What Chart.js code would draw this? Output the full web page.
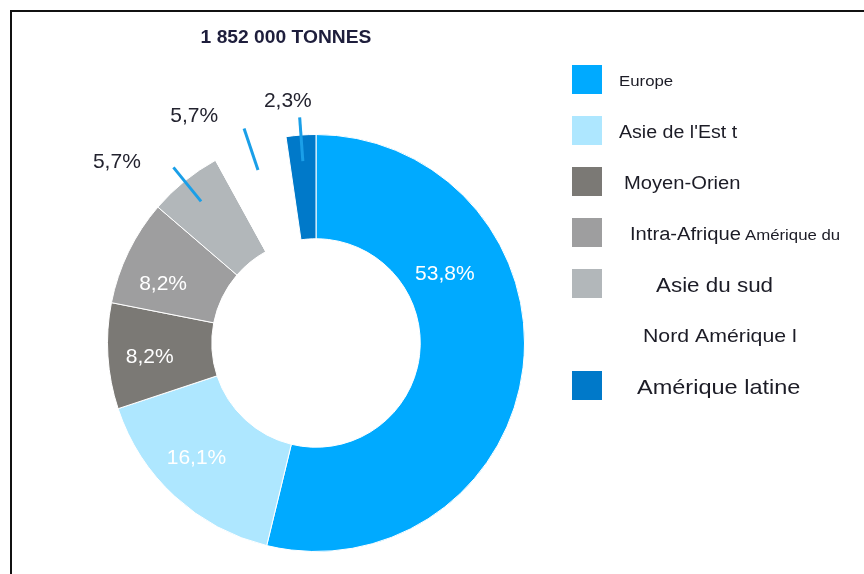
<!DOCTYPE html>
<html lang="fr">
<head>
<meta charset="utf-8">
<script src="https://cdn.jsdelivr.net/npm/chart.js@4.4.1/dist/chart.umd.min.js"></script>
<style>
  html, body { margin: 0; padding: 0; background: #fff; }
  #wrap { position: relative; width: 864px; height: 574px; overflow: hidden; }
  #frame { position: absolute; left: 10px; top: 10px; right: -4px; bottom: -4px; border-top: 2px solid #111; border-left: 2px solid #111; }
  canvas { position: absolute; left: 0; top: 0; }
</style>
</head>
<body>
<div id="wrap">
  <div id="frame"></div>
  <canvas id="donut" width="864" height="574"></canvas>
</div>
<script>
(function () {
    // données
    const regions = ['Europe', "Asie de l'Est t", 'Moyen-Orien', 'Intra-Afrique', 'Asie du sud', 'Nord Amérique l', 'Amérique latine'];
    const shares = [53.8, 16.1, 8.2, 8.2, 5.7, 5.7, 2.3];
    const legendNotes = ['', '', '', 'Amérique du', '', '', ''];
    const titleText = '1 852 000 TONNES';

    const sliceColors = ['#00aaff', '#aee7ff', '#7b7975', '#9e9e9f', '#b2b7ba', '#ffffff', '#0079c9'];

    // placement des étiquettes (fraction de l'arc / décalage en degrés, rayon relatif)
    const labelStyle = [
        { inside: true, at: 0.32, r: 0.70 },
        { inside: true, at: 0.56, r: 0.795 },
        { inside: true, at: 0.46, r: 0.80 },
        { inside: true, at: 0.33, r: 0.785 },
        { inside: false, shift: -8.7, r: 1.29 },
        { inside: false, shift: -9.7, r: 1.235 },
        { inside: false, shift: -2.5, r: 1.168 }
    ];
    // légende : taille de police et position du texte
    const legendStyle = [
        { size: 15, x: 619 },
        { size: 17.5, x: 619 },
        { size: 18, x: 624 },
        { size: 18, x: 630, noteSize: 15 },
        { size: 20, x: 656 },
        { size: 19, x: 643 },
        { size: 21, x: 637 }
    ];

    const fmt = (v) => v.toFixed(1).replace('.', ',') + '%';

    function stretchedText(ctx, text, x, y, sx, align) {
        ctx.save();
        ctx.translate(x, y);
        ctx.scale(sx, 1);
        ctx.textAlign = align || 'left';
        ctx.fillText(text, 0, 0);
        const w = ctx.measureText(text).width * sx;
        ctx.restore();
        return w;
    }

    const donutLabels = {
        id: 'donutLabels',
        afterDatasetsDraw(chart) {
            const ctx = chart.ctx;
            const arcs = chart.getDatasetMeta(0).data;
            ctx.save();
            ctx.font = '21px "Liberation Sans", Arial, sans-serif';
            ctx.textAlign = 'center';
            ctx.textBaseline = 'middle';
            arcs.forEach((arc, i) => {
                const p = arc.getProps(['x', 'y', 'startAngle', 'endAngle', 'outerRadius'], true);
                const st = labelStyle[i];
                const R = p.outerRadius;
                if (st.inside) {
                    const a = p.startAngle + (p.endAngle - p.startAngle) * st.at;
                    ctx.fillStyle = '#ffffff';
                    ctx.fillText(fmt(shares[i]), p.x + Math.cos(a) * R * st.r, p.y + Math.sin(a) * R * st.r);
                } else {
                    const mid = (p.startAngle + p.endAngle) / 2;
                    ctx.strokeStyle = '#1a9fe8';
                    ctx.lineWidth = 3;
                    ctx.beginPath();
                    ctx.moveTo(p.x + Math.cos(mid) * R * 0.875, p.y + Math.sin(mid) * R * 0.875);
                    ctx.lineTo(p.x + Math.cos(mid) * R * 1.085, p.y + Math.sin(mid) * R * 1.085);
                    ctx.stroke();
                    const a = mid + st.shift * Math.PI / 180;
                    ctx.fillStyle = '#23232f';
                    ctx.fillText(fmt(shares[i]), p.x + Math.cos(a) * R * st.r, p.y + Math.sin(a) * R * st.r);
                }
            });
            ctx.restore();
        },
        afterDraw(chart) {
            const ctx = chart.ctx;
            const colors = chart.data.datasets[0].backgroundColor;
            ctx.save();
            // titre
            ctx.fillStyle = '#1e1e3c';
            ctx.textBaseline = 'middle';
            ctx.font = 'bold 17.5px "Liberation Sans", Arial, sans-serif';
            stretchedText(ctx, titleText, 286, 38, 1.1, 'center');

            // légende
            chart.data.labels.forEach((lab, i) => {
                const top = 65 + i * 51;
                ctx.fillStyle = colors[i];
                ctx.fillRect(572, top, 30, 29);
                const ls = legendStyle[i];
                ctx.fillStyle = '#1c1c26';
                ctx.font = ls.size + 'px "Liberation Sans", Arial, sans-serif';
                const w = stretchedText(ctx, lab, ls.x, top + 17, 1.12);
                if (legendNotes[i]) {
                    ctx.font = ls.noteSize + 'px "Liberation Sans", Arial, sans-serif';
                    stretchedText(ctx, legendNotes[i], ls.x + w + 4, top + 18, 1.12);
                }
            });
            ctx.restore();
        }
    };

    new Chart(document.getElementById('donut').getContext('2d'), {
        type: 'doughnut',
        data: {
            labels: regions,
            datasets: [{
                data: shares,
                backgroundColor: sliceColors,
                borderColor: '#ffffff',
                borderWidth: 1
            }]
        },
        options: {
            responsive: false,
            animation: false,
            cutout: '50%',
            layout: { padding: { left: 107, right: 339, top: 134, bottom: 22 } },
            plugins: {
                legend: { display: false },
                title: { display: false },
                tooltip: { enabled: false }
            }
        },
        plugins: [donutLabels]
    });
})();
</script>
</body>
</html>
